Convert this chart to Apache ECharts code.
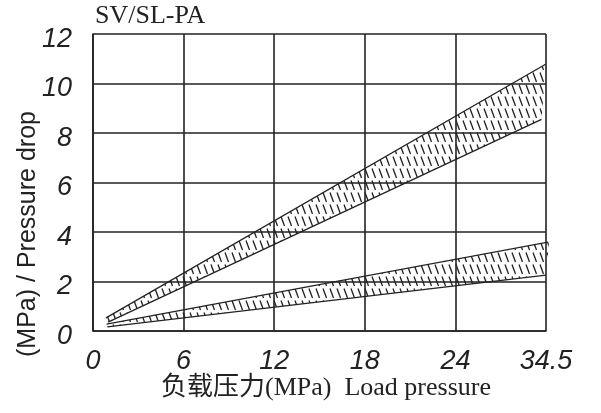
<!DOCTYPE html>
<html lang="en">

<head>
    <meta charset="UTF-8">
    <title>SV/SL-PA</title>
    <script src="https://cdn.jsdelivr.net/npm/echarts@6/dist/echarts.min.js"></script>
    <style>
        body { margin: 0; background: #fff; }
    </style>
</head>

<body>
    <div id="main" style="width: 601px;height:413px;"></div>
    <script type="text/javascript">
        // x ticks: last grid line is labelled 34.5 in the original
        var xTicks = [0, 6, 12, 18, 24, 30]
        var xTickLabels = ['0', '6', '12', '18', '24', '34.5']
        var yTicks = [0, 2, 4, 6, 8, 10, 12]

        // upper band (two edges)
        var upperBandTop = [[0.86, 0.53], [30, 10.79]]
        var upperBandBottom = [[1.0, 0.36], [29.7, 8.55]]
        // lower band (two edges)
        var lowerBandTop = [[0.9, 0.28], [30.2, 3.6]]
        var lowerBandBottom = [[0.95, 0.17], [30, 2.26]]

        var bands = [
            { top: upperBandTop, bottom: upperBandBottom },
            { top: lowerBandTop, bottom: lowerBandBottom }
        ]

        // hatch pattern for the bands
        var hatch = document.createElement('canvas')
        hatch.width = 7
        hatch.height = 12
        var ctx = hatch.getContext('2d')
        ctx.strokeStyle = '#222'
        ctx.lineWidth = 1.3
        ctx.beginPath()
        ctx.moveTo(1, 0.5)
        ctx.lineTo(4.5, 10)
        ctx.stroke()

        var ink = '#222'
        var labelFont = "'Liberation Sans', Arial, sans-serif"

        function edge(data, clip) {
            return {
                type: 'line',
                data: data,
                symbol: 'none',
                silent: true,
                clip: clip,
                lineStyle: { color: ink, width: 1.3 },
                z: 3
            }
        }

        var myChart = echarts.init(document.getElementById('main'))

        var option = {
            animation: false,
            backgroundColor: '#fff',
            grid: { left: 93, right: 55, top: 34, bottom: 82 },
            xAxis: {
                type: 'value',
                min: xTicks[0],
                max: xTicks[xTicks.length - 1],
                interval: 6,
                axisLine: { show: true, lineStyle: { color: ink, width: 1.6 } },
                axisTick: { show: false },
                splitLine: { show: true, lineStyle: { color: ink, width: 1.6 } },
                axisLabel: {
                    margin: 17,
                    color: ink,
                    fontSize: 27,
                    fontStyle: 'italic',
                    fontFamily: labelFont,
                    formatter: function (v) {
                        return xTickLabels[xTicks.indexOf(v)]
                    }
                }
            },
            yAxis: {
                type: 'value',
                min: yTicks[0],
                max: yTicks[yTicks.length - 1],
                interval: 2,
                axisLine: { show: true, lineStyle: { color: ink, width: 1.6 } },
                axisTick: { show: false },
                splitLine: { show: true, lineStyle: { color: ink, width: 1.6 } },
                axisLabel: {
                    margin: 21,
                    color: ink,
                    fontSize: 27,
                    fontStyle: 'italic',
                    fontFamily: labelFont,
                    verticalAlign: 'top',
                    lineHeight: 10
                }
            },
            graphic: [
                {
                    type: 'text', left: 95, top: 3,
                    style: { text: 'SV/SL-PA', font: "26px 'Liberation Serif', serif", fill: ink }
                },
                {
                    type: 'text', x: 28, y: 234, rotation: Math.PI / 2,
                    style: {
                        text: '(MPa) / Pressure drop', font: "25px 'Liberation Sans', Arial, sans-serif",
                        fill: ink, align: 'center', verticalAlign: 'middle'
                    }
                },
                {
                    type: 'text', x: 326, y: 388,
                    style: {
                        text: '负载压力(MPa)  Load pressure',
                        font: "26px 'Liberation Serif', 'Noto Sans CJK SC', serif",
                        fill: ink, align: 'center', verticalAlign: 'middle'
                    }
                }
            ],
            series: [
                {
                    type: 'custom',
                    silent: true,
                    clip: false,
                    z: 2,
                    data: [[0, 0], [1, 0]],
                    renderItem: function (params, api) {
                        var b = bands[params.dataIndex]
                        var pts = b.top.map(function (p) { return api.coord(p) })
                            .concat(b.bottom.slice().reverse().map(function (p) { return api.coord(p) }))
                        return {
                            type: 'polygon',
                            shape: { points: pts },
                            style: { fill: { image: hatch, repeat: 'repeat' }, stroke: null }
                        }
                    }
                },
                edge(upperBandTop, true),
                edge(upperBandBottom, true),
                edge(lowerBandTop, false),
                edge(lowerBandBottom, false)
            ]
        }

        myChart.setOption(option)
    </script>
</body>

</html>
